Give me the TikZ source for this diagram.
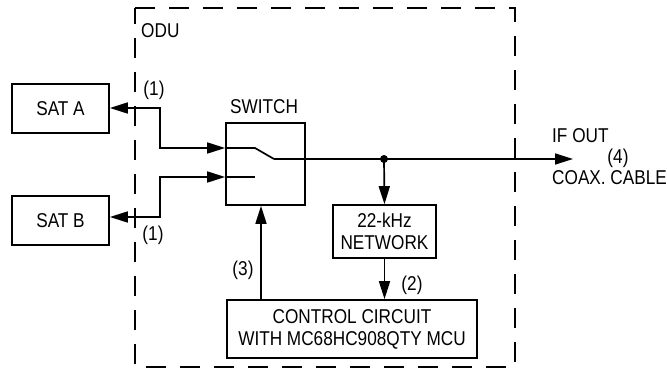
\documentclass[tikz,border=0pt]{standalone}
\usepackage{fontspec}
\setmainfont{Liberation Sans}[FakeStretch=0.86]
\usetikzlibrary{arrows.meta}
\begin{document}
\begin{tikzpicture}[x=1pt,y=-1pt,
  every node/.style={font=\fontsize{20}{22}\selectfont, inner sep=0pt},
  blk/.style={draw, line width=1.7pt, rectangle, align=center},
  wire/.style={line width=1.7pt},
  arr/.style={wire, -{Triangle[length=18pt,width=11pt]}},
  arrb/.style={wire, {Triangle[length=18pt,width=11pt]}-{Triangle[length=18pt,width=11pt]}},
  odubox/.style={line width=1.8pt, dash pattern=on 20pt off 14pt},
  lbl/.style={anchor=center}]
\useasboundingbox (0,0) rectangle (667,377);
% ODU dashed enclosure
\draw[odubox] (135,8) -- (515,8) -- (515,367) -- (135,367) -- cycle;
\node[anchor=west] (odu) at (141,31) {ODU};
% blocks
\node[blk, minimum width=97pt, minimum height=49pt] (satA) at (60.5,108.5) {SAT A};
\node[blk, minimum width=97pt, minimum height=49pt] (satB) at (60.5,220.5) {SAT B};
\node[blk, minimum width=79pt, minimum height=82pt] (switch) at (265.5,164) {};
\node[lbl] (swl) at (264,107) {SWITCH};
\node[blk, minimum width=103pt, minimum height=53pt] (net) at (384.5,231.5) {22-kHz\\NETWORK};
\node[blk, minimum width=250pt, minimum height=58pt] (ctrl) at (352,329) {CONTROL CIRCUIT\\WITH MC68HC908QTY MCU};
% coordinates
\coordinate (ua) at (160,108);
\coordinate (ui) at (226,148);
\coordinate (lb) at (160,217);
\coordinate (li) at (226,177);
\coordinate (s1) at (255,148);
\coordinate (sp) at (274,159);
\coordinate (s2) at (255,177);
\coordinate (jn) at (384,159);
\coordinate (out) at (573,159);
\coordinate (c3) at (261,0);
% SAT A / upper input
\draw[arrb] (satA.east |- ua) -- (ua) |- (ui -| switch.west);
% SAT B / lower input
\draw[arrb] (satB.east |- lb) -- (lb) |- (li -| switch.west);
% switch symbol
\draw[wire] (ui -| switch.west) -- (s1) -- (sp);
\draw[wire] (li -| switch.west) -- (s2);
% output
\draw[arr] (sp) -- (out);
\fill (jn) circle (4pt);
\draw[arr] (jn) -- (net.north);
\draw[arr] (net.south) -- (ctrl.north -| net.south);
\draw[arr] (ctrl.north -| c3) -- (switch.south -| c3);
% labels
\node[lbl] (l1a) at (154,90) {(1)};
\node[lbl] (l1b) at (153,235) {(1)};
\node[lbl] (l3) at (243,270) {(3)};
\node[lbl] (l2) at (412,285) {(2)};
\node[anchor=base west] (ifout) at (552,143) {IF OUT};
\node[lbl] (l4) at (618,158) {(4)};
\node[anchor=base west] (coax) at (552,185) {COAX. CABLE};
\end{tikzpicture}
\end{document}
